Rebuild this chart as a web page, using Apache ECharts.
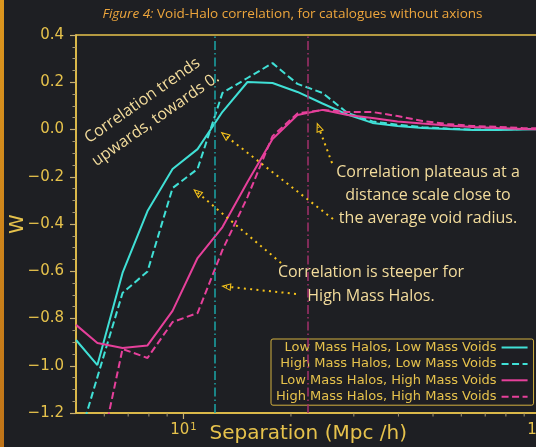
<!DOCTYPE html>
<html><head><meta charset="utf-8">
<script src="https://cdn.jsdelivr.net/npm/echarts@6/dist/echarts.min.js"></script>
<style>html,body{margin:0;padding:0;background:#1e1f23;}#c{width:536px;height:447px;}</style>
</head><body><div id="c"></div>
<script>
// Separation bins (Mpc/h)
const separation = [5.0, 5.74, 6.75, 7.93, 9.32, 10.95, 12.86, 15.11, 17.76, 20.86, 24.51, 28.81, 33.84, 39.77, 46.72, 54.90, 64.51, 75.79, 89.04, 104.6];
// W values
const lowHaloLowVoid   = [-0.891, -0.997, -0.607, -0.345, -0.167, -0.083, 0.075, 0.201, 0.197, 0.159, 0.110, 0.063, 0.028, 0.015, 0.006, 0.002, -0.002, -0.002, 0.000, 0.002];
const highHaloLowVoid  = [-1.352, -1.048, -0.692, -0.601, -0.248, -0.167, 0.155, 0.218, 0.281, 0.193, 0.155, 0.070, 0.034, 0.020, 0.010, 0.004, 0.000, 0.000, 0.002, 0.003];
const lowHaloHighVoid  = [-0.827, -0.904, -0.925, -0.914, -0.768, -0.544, -0.413, -0.222, -0.040, 0.061, 0.083, 0.061, 0.049, 0.034, 0.025, 0.017, 0.011, 0.006, 0.002, 0.000];
const highHaloHighVoid = [-1.600, -1.430, -0.929, -0.967, -0.815, -0.777, -0.510, -0.286, -0.028, 0.068, 0.083, 0.074, 0.074, 0.057, 0.036, 0.023, 0.015, 0.011, 0.006, 0.004];
const seriesNames = ['Low Mass Halos, Low Mass Voids', 'High Mass Halos, Low Mass Voids', 'Low Mass Halos, High Mass Voids', 'High Mass Halos, High Mass Voids'];
// average void radius markers
const lowVoidRadius = 12.26;
const highVoidRadius = 22.29;
// axis ticks
const xMajorTicks = [10, 100];
const xMinorTicks = [6, 7, 8, 9, 20, 30, 40, 50, 60, 70, 80, 90];
const yMin = -1.2, yMax = 0.4, yStep = 0.2;
// annotation arrows: [fromX, fromY, toX, toY]
const arrows = [
  [26.23, -0.379, 13.03, -0.023],
  [26.07, -0.142, 23.89, 0.011],
  [18.76, -0.565, 10.91, -0.265],
  [20.66, -0.696, 13.16, -0.665]
];

const cyan = '#40e0d6', magenta = '#e6409b';
const gold = '#e6c24c', cream = '#f3dc9c', arrowCol = '#f5c21b';
const arrowPath = 'path://M5,0L10,11L0,11Z M5,3.3L1.9,9.8L8.1,9.8Z';

function mk(arr) { return separation.map((x, i) => [x, arr[i]]); }

const chart = echarts.init(document.getElementById('c'), null, {renderer: 'canvas'});
const option = {
  backgroundColor: '#1e1f23',
  animation: false,
  grid: {left: 76, top: 35, width: 464.5, height: 378, outerBoundsMode: 'none', containLabel: false,
    show: true, borderColor: gold, borderWidth: 1.5, backgroundColor: 'transparent'},
  xAxis: {
    type: 'log', logBase: 10, min: 5, max: 100,
    name: 'Separation (Mpc /h)', nameLocation: 'middle', nameGap: 11, nameMoveOverlap: false,
    nameTextStyle: {color: gold, fontSize: 20, fontFamily: 'DejaVu Sans', verticalAlign: 'top'},
    axisLine: {show: true, onZero: false, lineStyle: {color: gold, width: 1.5}},
    axisTick: {show: false},
    splitLine: {show: false},
    axisLabel: {
      margin: 9, color: gold, fontFamily: 'DejaVu Sans', fontSize: 15,
      showMinLabel: false, showMaxLabel: true, hideOverlap: false,
      formatter: function (v) {
        const l = Math.log10(v), n = Math.round(l);
        if (Math.abs(l - n) > 1e-6) return '';
        return '{b|10}{s|' + n + '}';
      },
      rich: {
        b: {color: gold, fontFamily: 'DejaVu Sans', fontSize: 15},
        s: {color: gold, fontFamily: 'DejaVu Sans', fontSize: 10, verticalAlign: 'top', padding: [0, 0, 7, 1]}
      }
    }
  },
  yAxis: {
    type: 'value', min: yMin, max: yMax, interval: yStep,
    name: 'W', nameLocation: 'middle', nameRotate: 90, nameGap: 48, nameMoveOverlap: false,
    nameTextStyle: {color: gold, fontSize: 20, fontFamily: 'DejaVu Sans'},
    axisLine: {show: true, onZero: false, lineStyle: {color: gold, width: 1.5}},
    axisTick: {show: true, length: 6, lineStyle: {color: '#c8b070', width: 1.2}},
    minorTick: {show: true, splitNumber: 4, length: 3.5, lineStyle: {color: '#a89870', width: 1}},
    splitLine: {show: false},
    axisLabel: {
      margin: 12, color: gold, fontFamily: 'DejaVu Sans', fontSize: 15,
      formatter: function (v) { const r = Math.round(v * 10) / 10; return (r < 0 ? '\u2212' : '') + Math.abs(r).toFixed(1); }
    }
  },
  legend: {
    data: seriesNames, orient: 'vertical', left: 271, top: 339, align: 'right',
    itemWidth: 26, itemHeight: 14, itemGap: 3.4, padding: [2, 5, 2, 5],
    backgroundColor: 'rgba(30,31,35,0.85)', borderColor: '#d2b040', borderWidth: 1, borderRadius: 2,
    selectedMode: false,
    itemStyle: {opacity: 0},
    formatter: function (n) { return '{a|' + n + '}'; },
    textStyle: {color: gold, fontFamily: 'DejaVu Sans', fontSize: 13,
      rich: {a: {width: 236, align: 'right', color: gold, fontFamily: 'DejaVu Sans', fontSize: 13}}}
  },
  series: [
    {
      name: seriesNames[0], type: 'line', data: mk(lowHaloLowVoid), symbol: 'none', clip: true,
      lineStyle: {color: cyan, width: 2}, itemStyle: {color: cyan},
      markLine: {
        silent: true, symbol: 'none', label: {show: false},
        data: [
          {xAxis: lowVoidRadius, lineStyle: {color: '#1ba6a8', width: 1.5, type: [9, 3, 1.5, 3]}},
          {xAxis: highVoidRadius, lineStyle: {color: '#a3306c', width: 1.5, type: [9, 3, 1.5, 3]}}
        ]
      }
    },
    {name: seriesNames[1], type: 'line', data: mk(highHaloLowVoid), symbol: 'none', clip: true,
      lineStyle: {color: cyan, width: 2, type: [7, 3.5]}, itemStyle: {color: cyan}},
    {name: seriesNames[2], type: 'line', data: mk(lowHaloHighVoid), symbol: 'none', clip: true,
      lineStyle: {color: magenta, width: 2}, itemStyle: {color: magenta}},
    {
      name: seriesNames[3], type: 'line', data: mk(highHaloHighVoid), symbol: 'none', clip: true,
      lineStyle: {color: magenta, width: 2, type: [7, 3.5]}, itemStyle: {color: magenta},
      markLine: {
        silent: true, symbol: ['none', arrowPath], symbolSize: [8, 10], label: {show: false},
        lineStyle: {color: arrowCol, width: 2, type: [2, 4.3]},
        data: arrows.map(a => [{coord: [a[0], a[1]]}, {coord: [a[2], a[3]]}])
      }
    },
    {
      type: 'custom', coordinateSystem: 'cartesian2d', clip: false, silent: true, z: 5,
      data: xMajorTicks.map(v => [v, 1]).concat(xMinorTicks.map(v => [v, 0])),
      renderItem: function (params, api) {
        const p = api.coord([api.value(0), yMin]);
        const len = api.value(1) ? 6 : 3.5;
        return {type: 'line', shape: {x1: p[0], y1: p[1], x2: p[0], y2: p[1] + len},
          style: {stroke: api.value(1) ? '#c8b070' : '#a89870', lineWidth: api.value(1) ? 1.2 : 1}};
      }
    }
  ],
  graphic: [
    {type: 'rect', left: 0, top: 0, shape: {x: 0, y: 0, width: 4, height: 447},
      style: {fill: new echarts.graphic.LinearGradient(0, 0, 0, 1, [{offset: 0, color: '#dc961e'}, {offset: 1, color: '#c07418'}])}},
    {type: 'text', x: 292.5, y: 14, style: {
      text: '{i|Figure 4:} Void-Halo correlation, for catalogues without axions',
      fill: '#eea63c', fontFamily: 'Open Sans', fontSize: 13.5, align: 'center', verticalAlign: 'middle',
      rich: {i: {fill: '#eea63c', fontFamily: 'Open Sans', fontSize: 13.5, fontStyle: 'italic'}}}},
    {type: 'text', x: 149, y: 110, rotation: 35 * Math.PI / 180, style: {
      text: 'Correlation trends\nupwards, towards 0.', fill: cream, fontFamily: 'Open Sans', fontSize: 16,
      lineHeight: 23, align: 'center', verticalAlign: 'middle'}},
    {type: 'text', x: 428, y: 195, style: {
      text: 'Correlation plateaus at a\ndistance scale close to\nthe average void radius.', fill: cream,
      fontFamily: 'Open Sans', fontSize: 16, lineHeight: 23, align: 'center', verticalAlign: 'middle'}},
    {type: 'text', x: 371, y: 284, style: {
      text: 'Correlation is steeper for\nHigh Mass Halos.', fill: cream,
      fontFamily: 'Open Sans', fontSize: 16, lineHeight: 24, align: 'center', verticalAlign: 'middle'}}
  ]
};
chart.setOption(option);
</script>
</body></html>
